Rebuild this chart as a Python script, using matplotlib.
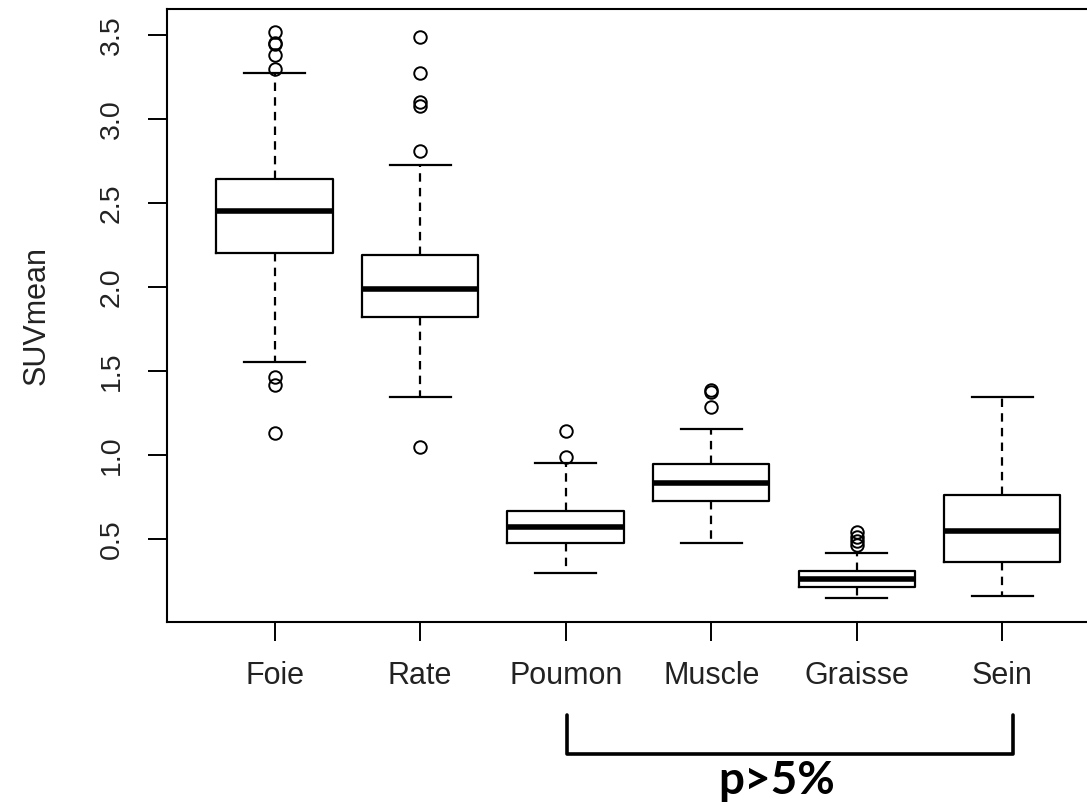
import matplotlib
matplotlib.use("Agg")
import matplotlib.pyplot as plt
from matplotlib.transforms import blended_transform_factory

# organ categories and box statistics
organs = ["Foie", "Rate", "Poumon", "Muscle", "Graisse", "Sein"]
medians = [2.452, 1.988, 0.573, 0.835, 0.264, 0.549]
q1 = [2.200, 1.820, 0.478, 0.728, 0.216, 0.365]
q3 = [2.640, 2.188, 0.669, 0.948, 0.312, 0.763]
whisk_lo = [1.554, 1.346, 0.300, 0.478, 0.151, 0.163]
whisk_hi = [3.272, 2.725, 0.954, 1.156, 0.419, 1.346]
outliers = [
    [3.516, 3.451, 3.445, 3.380, 3.297, 1.465, 1.417, 1.132],
    [3.486, 3.272, 3.100, 3.076, 2.808, 1.049],
    [1.144, 0.989],
    [1.388, 1.376, 1.287],
    [0.543, 0.514, 0.490, 0.466],
    [],
]
yticks = [0.5, 1.0, 1.5, 2.0, 2.5, 3.0, 3.5]

plt.rcParams["font.family"] = ["Liberation Sans", "DejaVu Sans"]

fig = plt.figure(figsize=(10.87, 8.06), dpi=100)
ax = fig.add_axes([0.1536, 0.2287, 0.8675, 0.7598])

stats = []
for i, name in enumerate(organs):
    stats.append(dict(label=name, med=medians[i], q1=q1[i], q3=q3[i],
                      whislo=whisk_lo[i], whishi=whisk_hi[i], fliers=outliers[i]))

positions = list(range(1, len(organs) + 1))
ax.bxp(stats, positions=positions, widths=0.8, capwidths=0.42,
       showfliers=True,
       boxprops=dict(color="black", linewidth=1.6),
       medianprops=dict(color="black", linewidth=4.0, solid_capstyle="butt"),
       whiskerprops=dict(color="black", linewidth=1.6, linestyle=(0, (3.8, 2.8))),
       capprops=dict(color="black", linewidth=1.6),
       flierprops=dict(marker="o", markerfacecolor="none", markeredgecolor="black",
                       markersize=9, markeredgewidth=1.4, linestyle="none"))

ax.set_xlim(0.26, 6.74)
ax.set_ylim(0.010, 3.651)
ax.set_yticks(yticks)
ax.set_yticklabels([f"{v:.1f}" for v in yticks], rotation=90, va="center",
                   fontsize=20.5, color="#222222")
ax.set_xticks(positions)
ax.set_xticklabels(organs, fontsize=22, color="#222222")
ax.tick_params(axis="both", direction="out", length=13.5, width=1.4, color="black")
ax.tick_params(axis="y", pad=17)
ax.tick_params(axis="x", pad=15)
for sp in ax.spines.values():
    sp.set_linewidth(1.5)

ax.set_ylabel("SUVmean", fontsize=22, color="#222222")
ax.yaxis.set_label_coords(-0.122, 0.5)

# bracket under Poumon .. Sein with the p-value
tr = blended_transform_factory(ax.transData, fig.transFigure)
x_left = positions[2] + 0.007
x_right = positions[5] + 0.076
ax.plot([x_left, x_left, x_right, x_right], [0.1129, 0.0645, 0.0645, 0.1129],
        transform=tr, color="black", linewidth=2.6, solid_joinstyle="round",
        solid_capstyle="round", clip_on=False)
ax.text(4.45, 0.031, "p>5%", transform=tr, ha="center", va="center",
        fontsize=33, fontweight="bold", family=["Lato", "DejaVu Sans"])

fig.savefig("out.png", dpi=100)
